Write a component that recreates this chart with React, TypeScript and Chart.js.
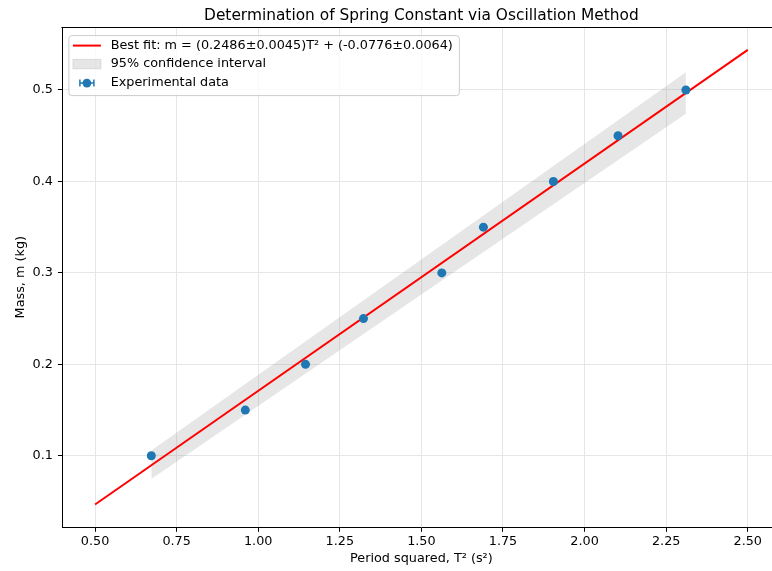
import React, { useEffect, useRef } from "react";
import { Chart, registerables } from "chart.js";

Chart.register(...registerables);

// ---- data ----
const periodSquared = [0.6724, 0.9604, 1.1449, 1.3225, 1.5625, 1.69, 1.9044, 2.1025, 2.3104];
const massValues = [0.1, 0.15, 0.2, 0.25, 0.3, 0.35, 0.4, 0.45, 0.5];
const fitX = [0.5, 2.5];
const fitY = [0.0467, 0.5439];
const bandX = [0.6724, 2.3104];
const bandUpper = [0.1057, 0.5193];
const bandLower = [0.0745, 0.4739];
const xTicks = [0.5, 0.75, 1.0, 1.25, 1.5, 1.75, 2.0, 2.25, 2.5];
const yTicks = [0.1, 0.2, 0.3, 0.4, 0.5];

const titleText = "Determination of Spring Constant via Oscillation Method";
const xLabel = "Period squared, T² (s²)";
const yLabel = "Mass, m (kg)";
const fitLabel = "Best fit: m = (0.2486±0.0045)T² + (-0.0776±0.0064)";
const bandLabel = "95% confidence interval";
const dataLabel = "Experimental data";

const FONT = "DejaVu Sans";
const BLUE = "#1f77b4";

const framePlugin = {
  id: "frameAndLegend",
  afterLayout(chart: any) {
    // centre the title over the plotting area, as matplotlib does
    const tb = chart.titleBlock;
    if (tb) {
      tb.left = chart.chartArea.left;
      tb.right = chart.chartArea.right;
      tb.width = tb.right - tb.left;
    }
  },
  afterDraw(chart: any) {
    const ctx = chart.ctx;
    const { left, top, right } = chart.chartArea;
    ctx.save();
    // top spine
    ctx.strokeStyle = "#000";
    ctx.lineWidth = 1;
    ctx.beginPath();
    ctx.moveTo(Math.round(left) - 0.5, Math.round(top) + 0.5);
    ctx.lineTo(right, Math.round(top) + 0.5);
    ctx.stroke();

    // legend
    const fs = 12.8;
    ctx.font = `${fs}px "${FONT}"`;
    const labels = [fitLabel, bandLabel, dataLabel];
    let maxW = 0;
    labels.forEach((l) => (maxW = Math.max(maxW, ctx.measureText(l).width)));
    const bx = left + 6;
    const by = top + 8;
    const textX = bx + 42.3;
    const bw = textX - bx + maxW + 6;
    const bh = 60;
    ctx.beginPath();
    ctx.roundRect(bx + 0.5, by + 0.5, bw, bh, 3);
    ctx.fillStyle = "rgba(255,255,255,0.8)";
    ctx.fill();
    ctx.strokeStyle = "#cccccc";
    ctx.stroke();

    const rows = [by + 10.5, by + 29, by + 48];
    // fit line sample
    ctx.strokeStyle = "red";
    ctx.lineWidth = 2;
    ctx.beginPath();
    ctx.moveTo(bx + 4.5, rows[0]);
    ctx.lineTo(bx + 32.5, rows[0]);
    ctx.stroke();
    // band patch
    ctx.fillStyle = "rgba(128,128,128,0.2)";
    ctx.fillRect(bx + 4.5, rows[1] - 4.7, 28, 9.4);
    ctx.strokeStyle = "rgba(128,128,128,0.2)";
    ctx.lineWidth = 1;
    ctx.strokeRect(bx + 4.5, rows[1] - 4.7, 28, 9.4);
    // data marker with x error bar
    const mx = bx + 18.5;
    ctx.strokeStyle = BLUE;
    ctx.lineWidth = 1.5;
    ctx.beginPath();
    ctx.moveTo(mx - 7, rows[2]);
    ctx.lineTo(mx + 7, rows[2]);
    ctx.moveTo(mx - 7, rows[2] - 3.5);
    ctx.lineTo(mx - 7, rows[2] + 3.5);
    ctx.moveTo(mx + 7, rows[2] - 3.5);
    ctx.lineTo(mx + 7, rows[2] + 3.5);
    ctx.stroke();
    ctx.fillStyle = BLUE;
    ctx.beginPath();
    ctx.arc(mx, rows[2], 4.4, 0, Math.PI * 2);
    ctx.fill();

    ctx.fillStyle = "#000";
    ctx.textBaseline = "middle";
    ctx.textAlign = "left";
    labels.forEach((l, i) => ctx.fillText(l, textX, rows[i]));
    ctx.restore();
  },
};

export default function App() {
  const canvasRef = useRef<HTMLCanvasElement | null>(null);

  useEffect(() => {
    if (!canvasRef.current) return;
    const chart = new Chart(canvasRef.current, {
      type: "scatter",
      data: {
        datasets: [
          {
            type: "line",
            label: bandLabel,
            data: bandX.map((x, i) => ({ x, y: bandUpper[i] })),
            borderWidth: 0,
            borderColor: "rgba(0,0,0,0)",
            pointRadius: 0,
            fill: "+1",
            backgroundColor: "rgba(128,128,128,0.2)",
            order: 3,
          } as any,
          {
            type: "line",
            label: "band lower",
            data: bandX.map((x, i) => ({ x, y: bandLower[i] })),
            borderWidth: 0,
            borderColor: "rgba(0,0,0,0)",
            pointRadius: 0,
            fill: false,
            order: 3,
          } as any,
          {
            type: "line",
            label: fitLabel,
            data: fitX.map((x, i) => ({ x, y: fitY[i] })),
            borderColor: "red",
            borderWidth: 2,
            pointRadius: 0,
            fill: false,
            order: 2,
          } as any,
          {
            type: "scatter",
            label: dataLabel,
            data: periodSquared.map((x, i) => ({ x, y: massValues[i] })),
            backgroundColor: BLUE,
            borderWidth: 0,
            pointRadius: 4.5,
            order: 1,
          } as any,
        ],
      },
      options: {
        animation: false,
        responsive: false,
        events: [],
        layout: { padding: { left: 0, right: 9.6, top: 0, bottom: 0 } },
        plugins: {
          legend: { display: false },
          tooltip: { enabled: false },
          title: {
            display: true,
            text: titleText,
            color: "#000",
            font: { family: FONT, size: 15.4, weight: "normal" },
            padding: { top: 6.3, bottom: 2.3 },
          },
        },
        scales: {
          x: {
            type: "linear",
            min: 0.4,
            max: 2.6,
            afterBuildTicks: (s: any) => {
              s.ticks = xTicks.map((v) => ({ value: v }));
            },
            afterFit: (s: any) => {
              s.height = 43.7;
            },
            ticks: {
              color: "#000",
              font: { family: FONT, size: 12.8 },
              padding: 2.2,
              maxRotation: 0,
              autoSkip: false,
              callback: (v: any) => Number(v).toFixed(2),
            },
            grid: {
              color: "#e6e6e6",
              lineWidth: 1,
              drawTicks: true,
              tickLength: 4.5,
              tickColor: "#000",
              tickWidth: 1,
            },
            border: { display: true, color: "#000", width: 1 },
            title: {
              display: true,
              text: xLabel,
              color: "#000",
              font: { family: FONT, size: 12.8 },
              padding: { top: 0, bottom: 4.3 },
            },
          },
          y: {
            type: "linear",
            min: 0.0218,
            max: 0.5688,
            afterBuildTicks: (s: any) => {
              s.ticks = yTicks.map((v) => ({ value: v }));
            },
            afterFit: (s: any) => {
              s.width = 62.4;
            },
            ticks: {
              color: "#000",
              font: { family: FONT, size: 12.8 },
              padding: 5,
              autoSkip: false,
              callback: (v: any) => Number(v).toFixed(1),
            },
            grid: {
              color: "#e6e6e6",
              lineWidth: 1,
              drawTicks: true,
              tickLength: 4.5,
              tickColor: "#000",
              tickWidth: 1,
            },
            border: { display: true, color: "#000", width: 1 },
            title: {
              display: true,
              text: yLabel,
              color: "#000",
              font: { family: FONT, size: 12.8 },
              padding: { top: 12.8, bottom: 0 },
            },
          },
        },
      },
      plugins: [framePlugin],
    });
    return () => chart.destroy();
  }, []);

  return (
    <div
      style={{
        position: "absolute",
        left: 0,
        top: 0,
        width: 772,
        height: 571,
        overflow: "hidden",
        background: "#fff",
      }}
    >
      <canvas ref={canvasRef} width={790} height={571} style={{ display: "block" }} />
    </div>
  );
}
